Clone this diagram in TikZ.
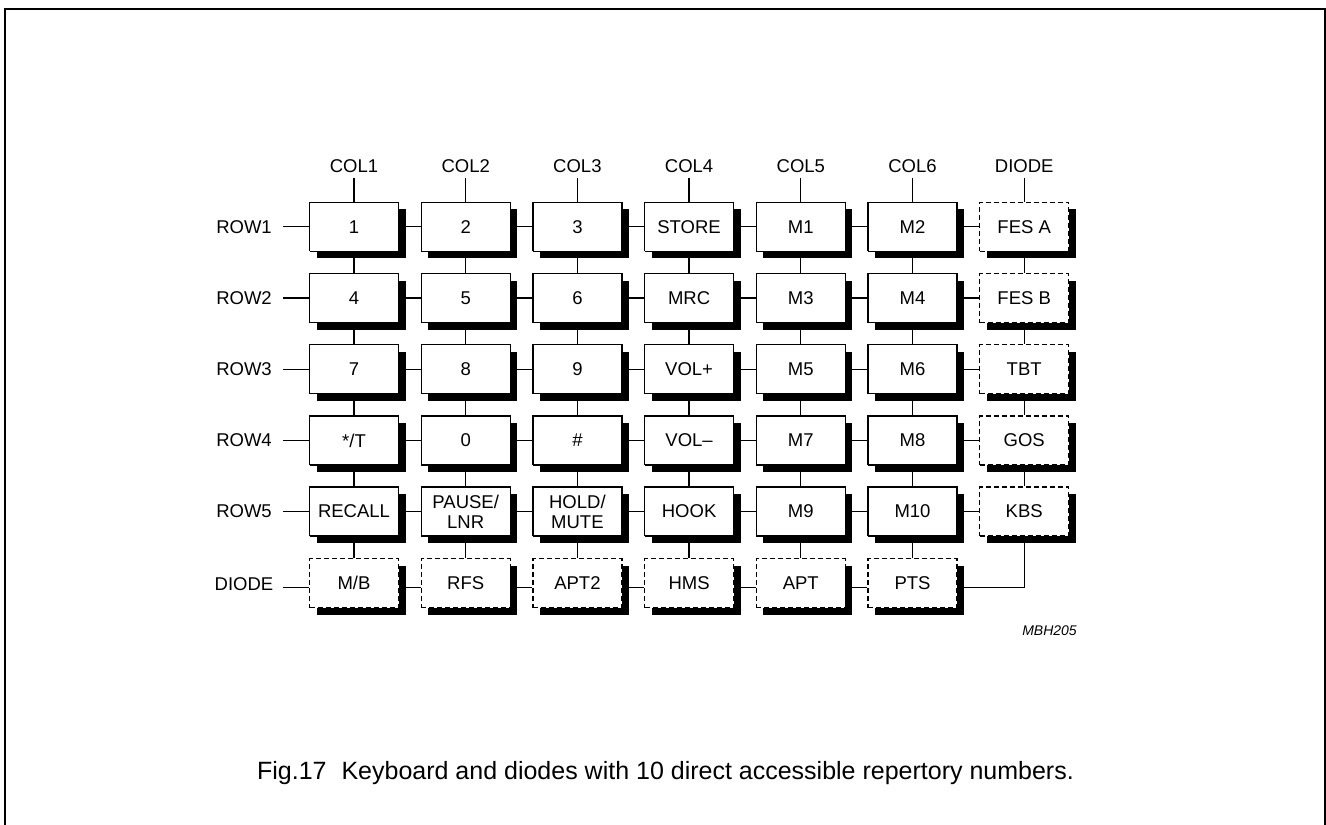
\documentclass[tikz,border=0pt]{standalone}
\usepackage{fontspec}
\setmainfont{Liberation Sans}
\usetikzlibrary{shadows}
\pgfdeclarelayer{background}
\pgfsetlayers{background,main}
\begin{document}
\begin{tikzpicture}[x=1pt,y=1pt,
  txt/.style={font=\fontsize{18.5}{20}\selectfont},
  boxbase/.style={txt, line width=1.3pt, fill=white, minimum width=89pt, minimum height=49pt,
    inner sep=0pt, align=center,
    drop shadow={shadow xshift=7pt, shadow yshift=-7pt, opacity=1, fill=black}},
  keybox/.style={boxbase, draw=black, dash pattern=on 2000pt off 1pt},
  diodebox/.style={boxbase, draw=black, dash pattern=on 5pt off 3pt},
  wire/.style={line width=1.3pt, solid},
  lbl/.style={txt, inner sep=0pt}]
\useasboundingbox (0,0) rectangle (1326,-825);
\draw[line width=2pt] (4.5,-826) -- (4.5,-9) -- (1324.5,-9) -- (1324.5,-826);

% row 1
\node[keybox] (k11) at (354,-226.8) {1};
\node[keybox] (k12) at (465.7,-226.8) {2};
\node[keybox] (k13) at (577.4,-226.8) {3};
\node[keybox] (k14) at (689.1,-226.8) {STORE};
\node[keybox] (k15) at (800.8,-226.8) {M1};
\node[keybox] (k16) at (912.5,-226.8) {M2};
\node[diodebox] (k17) at (1024.2,-226.8) {FES A};
% row 2
\node[keybox] (k21) at (354,-298) {4};
\node[keybox] (k22) at (465.7,-298) {5};
\node[keybox] (k23) at (577.4,-298) {6};
\node[keybox] (k24) at (689.1,-298) {MRC};
\node[keybox] (k25) at (800.8,-298) {M3};
\node[keybox] (k26) at (912.5,-298) {M4};
\node[diodebox] (k27) at (1024.2,-298) {FES B};
% row 3
\node[keybox] (k31) at (354,-369.2) {7};
\node[keybox] (k32) at (465.7,-369.2) {8};
\node[keybox] (k33) at (577.4,-369.2) {9};
\node[keybox] (k34) at (689.1,-369.2) {VOL+};
\node[keybox] (k35) at (800.8,-369.2) {M5};
\node[keybox] (k36) at (912.5,-369.2) {M6};
\node[diodebox] (k37) at (1024.2,-369.2) {TBT};
% row 4
\node[keybox] (k41) at (354,-440.4) {*/T};
\node[keybox] (k42) at (465.7,-440.4) {0};
\node[keybox] (k43) at (577.4,-440.4) {\#};
\node[keybox] (k44) at (689.1,-440.4) {VOL\textendash};
\node[keybox] (k45) at (800.8,-440.4) {M7};
\node[keybox] (k46) at (912.5,-440.4) {M8};
\node[diodebox] (k47) at (1024.2,-440.4) {GOS};
% row 5
\node[keybox] (k51) at (354,-511.6) {RECALL};
\node[keybox] (k52) at (465.7,-511.6) {PAUSE/\\LNR};
\node[keybox] (k53) at (577.4,-511.6) {HOLD/\\MUTE};
\node[keybox] (k54) at (689.1,-511.6) {HOOK};
\node[keybox] (k55) at (800.8,-511.6) {M9};
\node[keybox] (k56) at (912.5,-511.6) {M10};
\node[diodebox] (k57) at (1024.2,-511.6) {KBS};
% diode row
\node[diodebox] (k61) at (354,-583.3) {M/B};
\node[diodebox] (k62) at (465.7,-583.3) {RFS};
\node[diodebox] (k63) at (577.4,-583.3) {APT2};
\node[diodebox] (k64) at (689.1,-583.3) {HMS};
\node[diodebox] (k65) at (800.8,-583.3) {APT};
\node[diodebox] (k66) at (912.5,-583.3) {PTS};

% labels
\node[lbl] (rl1) at (244,-226.8) {ROW1};
\node[lbl] (rl2) at (244,-298) {ROW2};
\node[lbl] (rl3) at (244,-369.2) {ROW3};
\node[lbl] (rl4) at (244,-440.4) {ROW4};
\node[lbl] (rl5) at (244,-511.6) {ROW5};
\node[lbl] (rl6) at (244,-584) {DIODE};
\coordinate (rs1) at (283,-226.8);
\coordinate (rs2) at (283,-298);
\coordinate (rs3) at (283,-369.2);
\coordinate (rs4) at (283,-440.4);
\coordinate (rs5) at (283,-511.6);
\coordinate (rs6) at (283,-587.8);
\node[lbl] (cl1) at (354,-166) {COL1};
\node[lbl] (cl2) at (465.7,-166) {COL2};
\node[lbl] (cl3) at (577.4,-166) {COL3};
\node[lbl] (cl4) at (689.1,-166) {COL4};
\node[lbl] (cl5) at (800.8,-166) {COL5};
\node[lbl] (cl6) at (912.5,-166) {COL6};
\node[lbl] (cl7) at (1024.2,-166) {DIODE};
\coordinate (cs1) at (354,-178);
\coordinate (cs2) at (465.7,-178);
\coordinate (cs3) at (577.4,-178);
\coordinate (cs4) at (689.1,-178);
\coordinate (cs5) at (800.8,-178);
\coordinate (cs6) at (912.5,-178);
\coordinate (cs7) at (1024.2,-178);

\begin{pgfonlayer}{background}
% horizontal connectors
\foreach \ra in {1,...,5}
  \foreach \ca/\cb in {1/2,2/3,3/4,4/5,5/6,6/7}
    \draw[wire] (k\ra\ca.east) -- (k\ra\cb.west);
\foreach \ca/\cb in {1/2,2/3,3/4,4/5,5/6}
  \draw[wire] ([yshift=-4.5pt]k6\ca.east) -- ([yshift=-4.5pt]k6\cb.west);
\draw[wire] ([yshift=-4.5pt]k66.east) -| (k57.south);
% vertical connectors
\foreach \ca in {1,...,6}
  \foreach \ra/\rb in {1/2,2/3,3/4,4/5,5/6}
    \draw[wire] (k\ra\ca.south) -- (k\rb\ca.north);
\foreach \ra/\rb in {1/2,2/3,3/4,4/5}
  \draw[wire] (k\ra7.south) -- (k\rb7.north);
% label leads
\foreach \ra in {1,...,5}
  \draw[wire] (rs\ra) -- (k\ra1.west);
\draw[wire] (rs6) -- ([yshift=-4.5pt]k61.west);
\foreach \ca in {1,...,7}
  \draw[wire] (cs\ca) -- (k1\ca.north);
\end{pgfonlayer}

\node[font=\itshape\fontsize{14}{16}\selectfont, inner sep=0pt] (code) at (1049.5,-631) {MBH205};
\node[font=\fontsize{25}{27}\selectfont, inner sep=0pt] (cap) at (665.5,-773)
  {Fig.17\hspace{0.6em}Keyboard and diodes with 10 direct accessible repertory numbers.};
\end{tikzpicture}
\end{document}
